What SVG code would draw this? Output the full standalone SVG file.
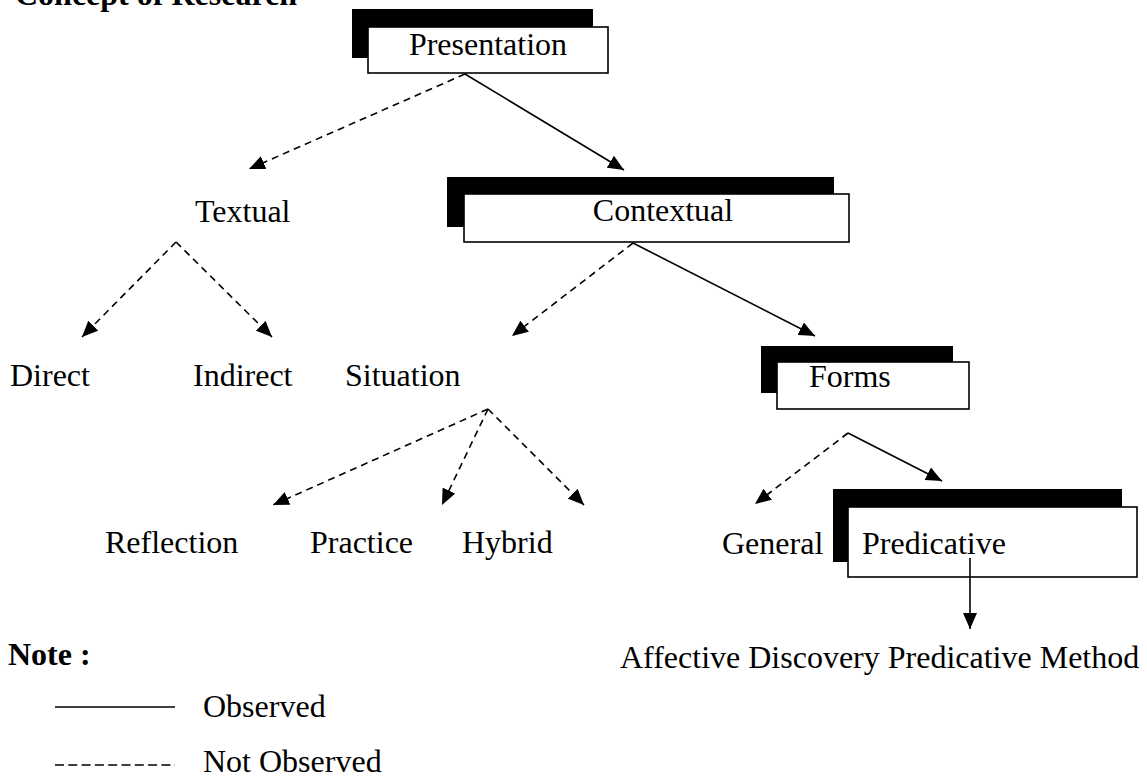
<svg xmlns="http://www.w3.org/2000/svg" width="1147" height="779" viewBox="0 0 1147 779">
<style>
text{font-family:"Liberation Serif","Times New Roman",serif;font-size:32px;fill:#000}
.b{font-weight:bold}
.sh{fill:#000}
.bx{fill:#fff;stroke:#000;stroke-width:1.6}
.s{stroke:#000;stroke-width:1.6;fill:none}
.d{stroke:#000;stroke-width:1.6;fill:none;stroke-dasharray:7 5}
</style>
<defs>
<marker id="ah" markerUnits="userSpaceOnUse" markerWidth="17" markerHeight="14" refX="16" refY="7" orient="auto">
<path d="M0,0 L16,7 L0,14 z" fill="#000"/>
</marker>
</defs>
<rect width="1147" height="779" fill="#fff"/>
<text class="b" x="15" y="5" font-size="31">Concept of Research</text>

<g id="connectors">
<line class="d" x1="465" y1="74" x2="249" y2="169" marker-end="url(#ah)"/>
<line class="s" x1="465" y1="74" x2="624" y2="170" marker-end="url(#ah)"/>
<line class="d" x1="176" y1="242" x2="82" y2="337" marker-end="url(#ah)"/>
<line class="d" x1="176" y1="242" x2="272" y2="337" marker-end="url(#ah)"/>
<line class="d" x1="633" y1="243" x2="512" y2="336" marker-end="url(#ah)"/>
<line class="s" x1="633" y1="243" x2="815" y2="336" marker-end="url(#ah)"/>
<line class="d" x1="488" y1="409" x2="273" y2="505" marker-end="url(#ah)"/>
<line class="d" x1="488" y1="409" x2="442" y2="505" marker-end="url(#ah)"/>
<line class="d" x1="488" y1="409" x2="584" y2="505" marker-end="url(#ah)"/>
<line class="d" x1="848" y1="433" x2="755" y2="504" marker-end="url(#ah)"/>
<line class="s" x1="848" y1="433" x2="942" y2="481" marker-end="url(#ah)"/>
</g>

<g id="presentation">
<rect class="sh" x="352" y="9" width="241" height="49"/>
<rect class="bx" x="368" y="27" width="240" height="46"/>
<text x="488" y="55" text-anchor="middle">Presentation</text>
</g>
<g id="textual"><text x="195" y="222">Textual</text></g>
<g id="contextual">
<rect class="sh" x="447" y="177" width="387" height="50"/>
<rect class="bx" x="464" y="194" width="385" height="48"/>
<text x="663" y="221" text-anchor="middle">Contextual</text>
</g>
<g id="direct"><text x="10" y="386">Direct</text></g>
<g id="indirect"><text x="193" y="386">Indirect</text></g>
<g id="situation"><text x="345" y="386">Situation</text></g>
<g id="forms">
<rect class="sh" x="761" y="346" width="192" height="47"/>
<rect class="bx" x="777" y="362" width="192" height="47"/>
<text x="809" y="387">Forms</text>
</g>
<g id="reflection"><text x="105" y="553">Reflection</text></g>
<g id="practice"><text x="310" y="553">Practice</text></g>
<g id="hybrid"><text x="462" y="553">Hybrid</text></g>
<g id="general"><text x="722" y="554">General</text></g>
<g id="predicative">
<rect class="sh" x="833" y="489" width="289" height="73"/>
<rect class="bx" x="848" y="507" width="289" height="70"/>
<text x="862" y="554">Predicative</text>
</g>
<g id="predicative-link">
<line class="s" x1="970" y1="558" x2="970" y2="629" marker-end="url(#ah)"/>
</g>
<g id="method"><text x="620" y="668">Affective Discovery Predicative Method</text></g>

<g id="legend">
<text class="b" x="8" y="665">Note :</text>
<line class="s" x1="55" y1="707" x2="175" y2="707"/>
<text x="203" y="717">Observed</text>
<line x1="55" y1="765" x2="175" y2="765" stroke="#000" stroke-width="1.6" stroke-dasharray="9 4.3"/>
<text x="203" y="772">Not Observed</text>
</g>
</svg>
